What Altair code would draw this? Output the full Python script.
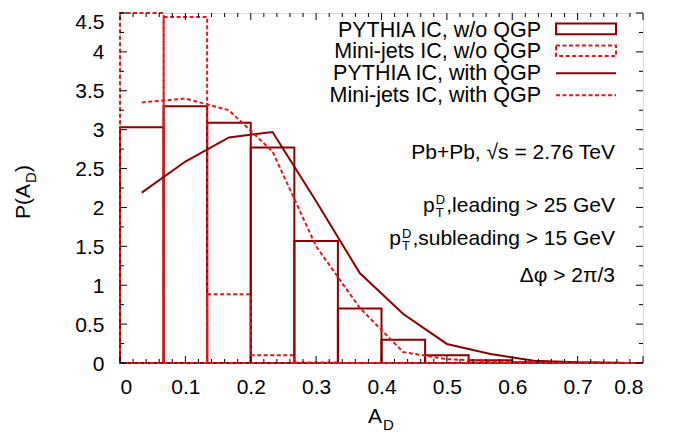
import altair as alt
import pandas as pd

# ---------------- data ----------------
bin_lo = [0.0, 0.0667, 0.1333, 0.2, 0.2667, 0.3333, 0.4, 0.4667, 0.5333, 0.6, 0.6667, 0.7333]
bin_hi = [0.0667, 0.1333, 0.2, 0.2667, 0.3333, 0.4, 0.4667, 0.5333, 0.6, 0.6667, 0.7333, 0.8]
pythia_hist = [3.03, 3.30, 3.09, 2.77, 1.57, 0.70, 0.30, 0.10, 0.035, 0.01, 0.004, 0.0]
minijet_hist = [9.55, 4.45, 0.885, 0.10, 0.005, 0.0, 0.0, 0.0, 0.0, 0.0, 0.0, 0.0]

curve_x = [0.0333, 0.1, 0.1667, 0.2333, 0.3, 0.3667, 0.4333, 0.5, 0.5667, 0.6333, 0.7, 0.7667]
pythia_qgp = [2.19, 2.59, 2.90, 2.97, 2.08, 1.156, 0.63, 0.245, 0.116, 0.03, 0.01, 0.003]
minijet_qgp = [3.35, 3.40, 3.25, 2.72, 1.50, 0.71, 0.14, 0.05, 0.02, 0.005, 0.002, 0.0]

series_names = ["PYTHIA IC, w/o QGP", "Mini-jets IC, w/o QGP",
                "PYTHIA IC, with QGP", "Mini-jets IC, with QGP"]

x_ticks = [0, 0.1, 0.2, 0.3, 0.4, 0.5, 0.6, 0.7, 0.8]
y_ticks = [0, 0.5, 1, 1.5, 2, 2.5, 3, 3.5, 4, 4.5]
x_minor = [round(i * 0.02, 2) for i in range(41) if i % 5 != 0]
y_minor = [0.25, 0.75, 1.25, 1.75, 2.25, 2.75, 3.25, 3.75, 4.25]

annot_line1 = "Pb+Pb, \u221As = 2.76 TeV"
annot_lead = ",leading > 25 GeV"
annot_sublead = ",subleading > 15 GeV"
annot_phi = "\u0394\u03c6 > 2\u03c0/3"

# ---------------- styling ----------------
W, H = 523, 350
DARK = "#8b0000"
RED = "#e8141c"
FONT = "Liberation Sans"
DASH = [4, 2.5]

XS = alt.Scale(domain=[0, 0.8], nice=False, zero=False)
YS = alt.Scale(domain=[0, 4.5], nice=False, zero=False, clamp=True)
AX = alt.Axis(values=x_ticks, title=None, ticks=False, tickSize=0, domain=False, grid=False,
              labelFontSize=21, labelFont=FONT, labelPadding=13, labelColor="black",
              labelExpr="format(datum.value, '~g')")
AY = alt.Axis(values=y_ticks, title=None, ticks=False, tickSize=0, domain=False, grid=False,
              labelFontSize=21, labelFont=FONT, labelPadding=16, labelColor="black",
              labelBaseline={"condition": {"test": "datum.value == 4.5", "value": "top"},
                             "value": "middle"},
              labelOffset={"condition": {"test": "datum.value == 4.5", "value": -2},
                           "value": 1},
              labelExpr="format(datum.value, '~g')")

hist_p = pd.DataFrame({"lo": bin_lo, "hi": bin_hi, "v": pythia_hist})
hist_m = pd.DataFrame({"lo": bin_lo, "hi": bin_hi, "v": minijet_hist})
cur_p = pd.DataFrame({"x": curve_x, "v": pythia_qgp})
cur_m = pd.DataFrame({"x": curve_x, "v": minijet_qgp})


def hist_layer(df, color, dash=None):
    kw = dict(filled=False, stroke=color, strokeWidth=2)
    if dash:
        kw["strokeDash"] = dash
    return alt.Chart(df).mark_rect(**kw).encode(
        x=alt.X("lo:Q", scale=XS, axis=AX), x2="hi:Q",
        y=alt.Y("v:Q", scale=YS, axis=AY), y2=alt.datum(0))


def curve_layer(df, color, dash=None):
    kw = dict(color=color, strokeWidth=2)
    if dash:
        kw["strokeDash"] = dash
    return alt.Chart(df).mark_line(**kw).encode(
        x=alt.X("x:Q", scale=XS, axis=AX), y=alt.Y("v:Q", scale=YS, axis=AY))


layers = [
    hist_layer(hist_p, DARK),
    hist_layer(hist_m, RED, DASH),
    curve_layer(cur_p, DARK),
    curve_layer(cur_m, RED, DASH),
]

# inward ticks on all four sides
xt = pd.DataFrame({"t": x_ticks})
xm = pd.DataFrame({"t": x_minor})
yt = pd.DataFrame({"t": y_ticks})
ym = pd.DataFrame({"t": y_minor})
for df, ln in [(xt, 7), (xm, 4)]:
    for y0, y1 in [(H, H - ln), (0, ln)]:
        layers.append(alt.Chart(df).mark_rule(color="black", strokeWidth=1).encode(
            x=alt.X("t:Q", scale=XS, axis=AX), y=alt.value(y0), y2=alt.value(y1)))
for df, ln in [(yt, 7), (ym, 4)]:
    for x0, x1 in [(0, ln), (W, W - ln)]:
        layers.append(alt.Chart(df).mark_rule(color="black", strokeWidth=1).encode(
            y=alt.Y("t:Q", scale=YS, axis=AY), x=alt.value(x0), x2=alt.value(x1)))


def text(s, x, y, size=21, align="left", angle=0):
    kw = dict(align=align, baseline="alphabetic", fontSize=size, font=FONT, color="black")
    if angle:
        kw["angle"] = angle
    return alt.Chart(pd.DataFrame({"s": [s]})).mark_text(**kw).encode(
        text="s:N", x=alt.value(x), y=alt.value(y))


one = pd.DataFrame({"k": [0]})
# legend
LX_TEXT, LS0, LS1 = 421, 436, 496
for i, name in enumerate(series_names):
    base = 23.5 + 21.9 * i
    layers.append(text(name, LX_TEXT, base, size=21.5, align="right"))
    color = DARK if i % 2 == 0 else RED
    kw = dict(stroke=color, strokeWidth=2)
    if i % 2 == 1:
        kw["strokeDash"] = DASH
    if i < 2:
        layers.append(alt.Chart(one).mark_rect(filled=False, **kw).encode(
            x=alt.value(LS0), x2=alt.value(LS1), y=alt.value(base - 13), y2=alt.value(base - 2.3)))
    else:
        layers.append(alt.Chart(one).mark_rule(**kw).encode(
            x=alt.value(LS0), x2=alt.value(LS1), y=alt.value(base - 7)))

# annotations
RX = 495
layers.append(text(annot_line1, RX, 146.3, align="right"))
for s, base, w in [(annot_lead, 198.7, 168.7), (annot_sublead, 232, 202.5)]:
    start = RX - w
    layers.append(text(s, RX, base, align="right"))
    layers.append(text("p", start - 11.5, base, align="right"))
    layers.append(text("D", start - 10.5, base - 7.5, size=13))
    layers.append(text("T", start - 10.5, base + 5, size=13))
layers.append(text(annot_phi, RX, 268.7, align="right"))

# axis titles
layers.append(text("P(A", -90, 171, size=21, align="right", angle=270))
layers.append(text("D", -84, 170, size=15, align="left", angle=270))
layers.append(text(")", -90, 159, size=21, align="left", angle=270))
layers.append(text("A", 248, 410, size=21))
layers.append(text("D", 263, 417, size=15))

chart = alt.layer(*layers).properties(
    width=W, height=H,
    autosize=alt.AutoSizeParams(type="none"),
    padding={"left": 112, "top": 5, "right": 30, "bottom": 72},
).configure_view(stroke="black", strokeWidth=1).configure(background="white")

chart.save("out.html", embed_options={"renderer": "svg", "actions": False})
